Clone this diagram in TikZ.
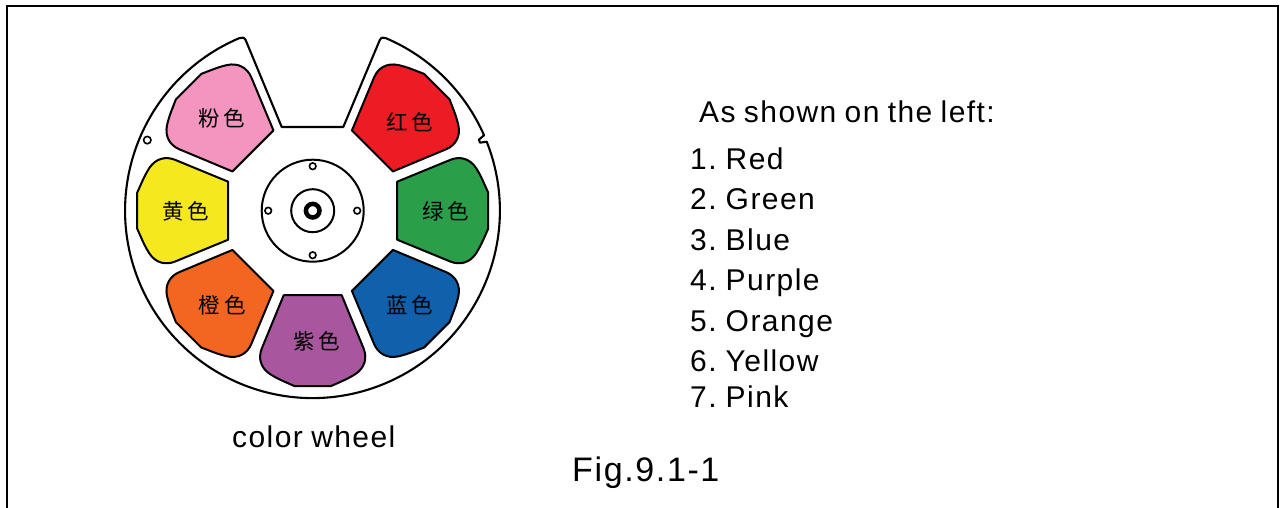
\documentclass[tikz,border=0pt]{standalone}
\usepackage{fontspec}
\setmainfont[LetterSpace=4.8,WordSpace=0.85]{Liberation Sans}
\newfontfamily\cjk{Noto Sans CJK SC}
\definecolor{cred}{HTML}{ED1C24}
\definecolor{cgreen}{HTML}{2B9E4A}
\definecolor{cblue}{HTML}{1160AC}
\definecolor{cpurple}{HTML}{A8579F}
\definecolor{corange}{HTML}{F36621}
\definecolor{cyellow}{HTML}{F5E81F}
\definecolor{cpink}{HTML}{F495BF}
\tikzset{
  petaledge/.style={draw=black,line width=2pt,line join=round},
  wheeledge/.style={draw=black,line width=2.1pt,line join=round},
  hole/.style={draw=black,line width=1.6pt,fill=white},
  cjklabel/.style={inner sep=0pt,font=\cjk\fontsize{21.5}{22}\selectfont},
  listtext/.style={anchor=base west,inner sep=0pt,font=\fontsize{30}{30}\selectfont},
}
\newcommand{\petalshape}[2]{%
  \fill[#2,petaledge,rotate=#1]
    (84.5,29) -- (138,51) .. controls (147,54.5) and (157,52.5) .. (163.5,42.5)
    .. controls (168,35) .. (175.5,18) -- (175.5,-18)
    .. controls (168,-35) .. (163.5,-42.5)
    .. controls (157,-52.5) and (147,-54.5) .. (138,-51) -- (84.5,-29) -- cycle;}
\begin{document}
\begin{tikzpicture}[x=1pt,y=1pt]
\useasboundingbox (0,0) rectangle (1284,508);
\draw[black,line width=2pt] (6.5,0) -- (6.5,502) -- (1277.5,502) -- (1277.5,0);
\begin{scope}[shift={(312.7,297.3)}]
  \draw[wheeledge]
    (-31,83.7) -- (30.6,83.7) -- (67,170.5)
    .. controls (68.5,173.5) and (70.5,173.6) .. (73,172.6)
    arc[start angle=67,end angle=23.7,radius=187.4]
    -- (166.2,71) -- (167.3,68) -- (174,69)
    arc[start angle=21.6,end angle=-247,radius=187.4]
    .. controls (-70.5,173.6) and (-68.5,173.5) .. (-67,170.5) -- cycle;
  \petalshape{0}{cgreen}
  \petalshape{-45}{cblue}
  \petalshape{-90}{cpurple}
  \petalshape{-135}{corange}
  \petalshape{180}{cyellow}
  \petalshape{135}{cpink}
  \petalshape{45}{cred}
  \draw[black,line width=2pt] (0,0) circle[radius=51];
  \draw[black,line width=2pt] (0,0) circle[radius=21.5];
  \draw[black,line width=4.5pt] (0,0) circle[radius=6.8];
  \foreach \a in {0,90,180,270}
    \draw[hole] (\a:44.5) circle[radius=3.3];
  \draw[hole] (-165.4,70.6) circle[radius=3.7];
\end{scope}
\node[cjklabel] (lpink) at (221.7,390) {粉\kern4pt色};
\node[cjklabel] (lred) at (409.7,386) {红\kern4pt色};
\node[cjklabel] (lgreen) at (445.7,297) {绿\kern4pt色};
\node[cjklabel] (lblue) at (409.7,203) {蓝\kern4pt色};
\node[cjklabel] (lpurple) at (316.7,167) {紫\kern4pt色};
\node[cjklabel] (lorange) at (222.2,203) {橙\kern4pt色};
\node[cjklabel] (lyellow) at (185.7,297) {黄\kern4pt色};
\node[listtext] (head) at (699,385.5) {As shown on the left:};
\node[listtext] (i1) at (690,338) {1. \kern-2.5pt Red};
\node[listtext] (i2) at (690,298) {2. \kern-2.5pt Green};
\node[listtext] (i3) at (690,257) {3. \kern-2.5pt Blue};
\node[listtext] (i4) at (690,217) {4. \kern-2.5pt Purple};
\node[listtext] (i5) at (690,176) {5. \kern-2.5pt Orange};
\node[listtext] (i6) at (690,136) {6. \kern-2.5pt Yellow};
\node[listtext] (i7) at (690,100) {7. \kern-2.5pt Pink};
\node[listtext] (cw) at (232,60) {color wheel};
\node[listtext,font=\fontsize{34}{34}\selectfont] (fig) at (572,26) {Fig.9.1-1};
\end{tikzpicture}
\end{document}
